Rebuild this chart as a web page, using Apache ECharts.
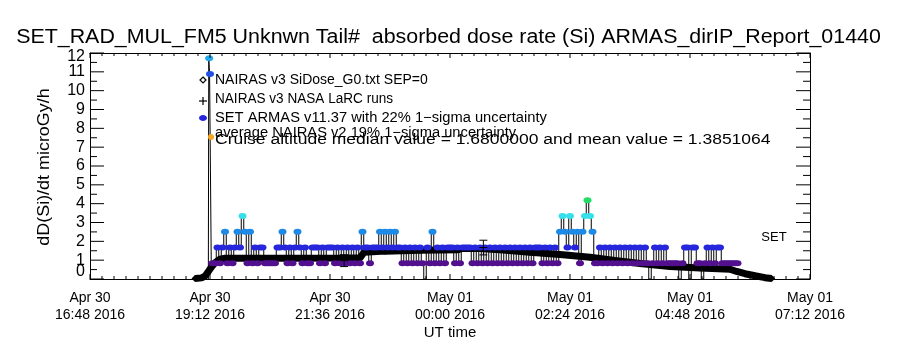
<!DOCTYPE html>
<html><head><meta charset="utf-8">
<script src="https://cdn.jsdelivr.net/npm/echarts/dist/echarts.min.js"></script>
<style>html,body{margin:0;padding:0;background:#fff}#c{width:900px;height:350px}</style>
</head><body><div id="c"></div>
<script>
// ---------------- data (times are UT, Apr 30 -> May 01 2016) ----------------
const xTickStartHour = 16.8;      // Apr 30 16:48
const xTickEndHour = 31.2;        // May 01 07:12
const xTickStepHour = 2.4;        // 2h24m
const xMinorPerMajor = 10;
const yTicks = [0,1,2,3,4,5,6,7,8,9,10,11,12];
const yMinorPerMajor = 2;

// ARMAS spike at take-off
const armasSpikeTimes  = ['19:10','19:11','19:12','19:15'];
const armasSpikeValues = [0, 11.72, 10.88, 0.84];
// ARMAS sampled every 3 minutes from 19:18
const armasStart = '19:18';
const armasStepMin = 3;
const armasValues = [
0.84,1.67,0.84,1.67,2.51,0.84,1.67,0.84,1.67,2.51,
1.67,3.35,2.51,0.84,2.51,0.84,1.67,0.84,1.67,1.67,
0.84,0.84,0.84,0.84,0.84,1.67,1.67,2.51,1.67,0.84,
1.67,0.84,1.67,2.51,1.67,0.84,1.67,0.84,0.84,1.67,
1.67,1.67,0.84,1.67,0.84,1.67,1.67,1.67,0.84,1.67,
0.84,1.67,0.84,1.67,0.84,1.67,0.84,1.67,0.84,2.51,
1.67,1.67,0.84,1.67,1.67,1.67,2.51,1.67,2.51,1.67,
2.51,1.67,2.51,1.67,1.67,0.84,1.67,0.84,1.67,0.84,
1.67,0.84,1.67,0.84,0,1.67,0.84,2.51,0.84,1.67,
0.84,1.67,0.84,1.67,1.67,1.67,0.84,1.67,0.84,1.67,
1.67,1.67,1.67,0.84,1.67,0.84,1.67,0.84,1.67,0.84,
1.67,0.84,1.67,0.84,1.67,0.84,1.67,0.84,1.67,0.84,
1.67,0.84,1.67,0.84,1.67,0.84,1.67,0.84,1.67,1.67,
1.67,0.84,1.67,0.84,1.67,0.84,1.67,0.84,2.51,3.35,
2.51,1.67,3.35,2.51,1.67,2.51,0.84,2.51,3.35,4.18,
3.35,2.51,0.84,0.84,1.67,0.84,1.67,0.84,1.67,0.84,
1.67,0.84,1.67,0.84,1.67,0.84,1.67,0.84,1.67,0.84,
1.67,0.84,1.67,0.84,0,0.84,1.67,0.84,1.67,0.84,
1.67,0.84,0.84,0.84,0.84,0.84,0,0.84,1.67,1.67,
0,1.67,1.67,0.84,0.84,0,0.84,1.67,0.84,1.67,
0.84,1.67,1.67,0.84,0.84,0.84,0.84,0.84,0.84,0.84
];
const armasLevels = [0.84,1.67,2.51,3.35,4.18,10.88,11.72];
const armasLevelColors = ['#52108f','#2626dc','#1e8ae8','#36e0ea','#22de66','#2050e4','#22a8ee'];

// NAIRAS v3 SiDose_G0
const nairasTimes = ['18:54','19:02','19:06','19:10','19:14','19:19','19:24','19:30','20:12','21:00','21:48','22:12','22:17','22:42','23:24','00:10','00:14','00:36','01:00','01:36','02:12','02:48','03:18','03:48','04:24','05:00','05:36','05:44','05:54','06:06','06:18','06:26'];
const nairasValues = [0.03,0.06,0.15,0.40,0.65,0.90,1.05,1.10,1.10,1.10,1.11,1.12,1.42,1.48,1.52,1.55,1.62,1.62,1.55,1.42,1.30,1.15,0.98,0.82,0.66,0.58,0.52,0.40,0.28,0.17,0.07,0.03];

// NAIRAS v3 NASA LaRC runs (value +/- error)
const larcTimes = ['21:53','00:40'];
const larcValues = [0.97,1.67];
const larcErrors = [0.31,0.39];

// ---------------- helpers ----------------
function toHours(s){ const p=s.split(':'); let h=+p[0]+(+p[1])/60; if(h<12) h+=24; return h; }
function levelColor(v){ let best=0,d=1e9; armasLevels.forEach((l,i)=>{ if(Math.abs(l-v)<d){d=Math.abs(l-v);best=i;} }); return armasLevelColors[best]; }
function fmtX(h){ const m=Math.round(h*60); const day=m<1440?'Apr 30':'May 01'; const mm=m%1440; const hh=Math.floor(mm/60), mi=mm%60; return day+'\n'+String(hh).padStart(2,'0')+':'+String(mi).padStart(2,'0')+' 2016'; }

const armasData = armasSpikeTimes.map((t,i)=>[toHours(t),armasSpikeValues[i]]);
const a0 = toHours(armasStart);
armasValues.forEach((v,i)=>armasData.push([a0+i*armasStepMin/60, v]));
const nairasData = nairasTimes.map((t,i)=>[toHours(t),nairasValues[i]]);
const larcData = larcTimes.map((t,i)=>[toHours(t),larcValues[i],larcErrors[i]]);

const yMin = yTicks[0], yMax = yTicks[yTicks.length-1];

// layout
const GRID = {left:90, right:90, top:53, bottom:71};
const plotW = 900-GRID.left-GRID.right, plotH = 350-GRID.top-GRID.bottom;
const hPerPx = (xTickEndHour-xTickStartHour)/plotW, vPerPx = (yMax-yMin)/plotH;

// IDL-style tick marks pointing into the frame, drawn as short segments in axis units
const tickSegs = [];
const GAP = ['-','-'];
const nX = Math.round((xTickEndHour-xTickStartHour)/xTickStepHour)*xMinorPerMajor;
for (let k=0;k<=nX;k++){
  const x = xTickStartHour + k*xTickStepHour/xMinorPerMajor;
  const len = (k%xMinorPerMajor===0?5:3)*vPerPx;
  tickSegs.push([x,yMin],[x,yMin+len],GAP,[x,yMax],[x,yMax-len],GAP);
}
const nY = (yTicks.length-1)*yMinorPerMajor;
for (let k=0;k<=nY;k++){
  const y = yMin + k/yMinorPerMajor;
  const len = (k%yMinorPerMajor===0?14:7)*hPerPx;
  tickSegs.push([xTickStartHour,y],[xTickStartHour+len,y],GAP,[xTickEndHour,y],[xTickEndHour-len,y],GAP);
}

const FONT='"Liberation Sans", Arial, sans-serif';
const chart = echarts.init(document.getElementById('c'), null, {renderer:'canvas'});
const K = {color:'#000', width:1};
const NO = {show:false};
const xRange = {type:'value', min:xTickStartHour, max:xTickEndHour, interval:xTickStepHour, splitLine:NO, minorSplitLine:NO, axisTick:NO, minorTick:NO};
const yRange = {type:'value', min:yMin, max:yMax, interval:1, splitLine:NO, minorSplitLine:NO, axisTick:NO, minorTick:NO};
chart.setOption({
  animation:false,
  backgroundColor:'#fff',
  grid:Object.assign({containLabel:false}, GRID),
  xAxis:[
    Object.assign({}, xRange, {position:'bottom', axisLine:{show:true, onZero:false, lineStyle:K},
      axisLabel:{show:true, showMinLabel:true, showMaxLabel:true, formatter:fmtX, color:'#000', fontFamily:FONT, fontSize:14, lineHeight:17, margin:11}}),
    Object.assign({}, xRange, {position:'top', axisLine:{show:true, onZero:false, lineStyle:K}, axisLabel:NO})
  ],
  yAxis:[
    Object.assign({}, yRange, {position:'left', axisLine:{show:true, onZero:false, lineStyle:K},
      axisLabel:{show:true, color:'#000', fontFamily:FONT, fontSize:16, margin:5,
        formatter:v=> (v===yMin||v===yMax)?'':String(v)}}),
    Object.assign({}, yRange, {position:'right', axisLine:{show:true, onZero:false, lineStyle:K}, axisLabel:NO}),
    Object.assign({}, yRange, {position:'left', axisLine:NO,
      axisLabel:{show:true, showMinLabel:true, showMaxLabel:true, color:'#000', fontFamily:FONT, fontSize:16, margin:5,
        formatter:v=> v===yMin?'{lo|'+v+'}':(v===yMax?'{hi|'+v+'}':''),
        rich:{lo:{fontFamily:FONT,fontSize:16,color:'#000',padding:[0,0,14,0]}, hi:{fontFamily:FONT,fontSize:16,color:'#000',padding:[7,0,0,0]}}}})
  ],
  series:[
    {type:'line', name:'ticks', data:tickSegs, xAxisIndex:0, yAxisIndex:0, z:6, clip:false,
      connectNulls:false, symbol:'none', showSymbol:false, lineStyle:{color:'#000', width:1},
      emphasis:{disabled:true}, silent:true},
    {type:'line', name:'NAIRAS v3', data:nairasData, xAxisIndex:0, yAxisIndex:0, z:2,
      lineStyle:{color:'#000', width:7}, symbol:'diamond', symbolSize:7, showAllSymbol:true,
      itemStyle:{color:'#000'}, emphasis:{disabled:true}, silent:true},
    {type:'line', name:'ARMAS', data:armasData, xAxisIndex:0, yAxisIndex:0, z:3, step:'middle',
      lineStyle:{color:'#000', width:1}, symbol:'circle', showAllSymbol:true,
      symbolSize:(val)=> val[1]<0.1?0:[8,6],
      itemStyle:{color:(p)=>levelColor(p.value[1])}, emphasis:{disabled:true}, silent:true},
    {type:'custom', name:'LaRC', data:larcData, xAxisIndex:0, yAxisIndex:0, z:4, silent:true,
      encode:{x:0, y:1},
      renderItem:(params, api)=>{
        const x=api.value(0), y=api.value(1), e=api.value(2);
        const t=api.coord([x,y+e]), b=api.coord([x,y-e]), m=api.coord([x,y]);
        const st={stroke:'#000', lineWidth:1};
        return {type:'group', children:[
          {type:'line', shape:{x1:t[0],y1:t[1],x2:b[0],y2:b[1]}, style:st},
          {type:'line', shape:{x1:t[0]-4,y1:t[1],x2:t[0]+4,y2:t[1]}, style:st},
          {type:'line', shape:{x1:b[0]-4,y1:b[1],x2:b[0]+4,y2:b[1]}, style:st},
          {type:'line', shape:{x1:m[0]-4,y1:m[1],x2:m[0]+4,y2:m[1]}, style:st}
        ]};
      }}
  ],
  graphic:[
    {type:'text', x:448.5, y:37, scaleX:1.07, style:{text:'SET_RAD_MUL_FM5 Unknwn Tail#  absorbed dose rate (Si) ARMAS_dirIP_Report_01440', font:'20px '+FONT, fill:'#000', textAlign:'center', textVerticalAlign:'middle'}},
    {type:'text', x:45, y:167, rotation:Math.PI/2, scaleX:1.12, style:{text:'dD(Si)/dt microGy/h', font:'16px '+FONT, fill:'#000', textAlign:'center', textVerticalAlign:'middle'}},
    {type:'text', x:450, y:333, style:{text:'UT time', font:'15px '+FONT, fill:'#000', textAlign:'center', textVerticalAlign:'middle'}},
    {type:'text', x:774, y:237, style:{text:'SET', font:'13px '+FONT, fill:'#000', textAlign:'center', textVerticalAlign:'middle'}},
    // legend
    {type:'polygon', shape:{points:[[203,77],[206,80],[203,83],[200,80]]}, style:{fill:'#fff', stroke:'#000', lineWidth:1.2}, z:10},
    {type:'text', x:215, y:80, style:{text:'NAIRAS v3 SiDose_G0.txt SEP=0', font:'14px '+FONT, fill:'#000', textVerticalAlign:'middle'}, z:10},
    {type:'line', shape:{x1:199,y1:101,x2:207,y2:101}, style:{stroke:'#000', lineWidth:1.2}, z:10},
    {type:'line', shape:{x1:203,y1:97,x2:203,y2:105}, style:{stroke:'#000', lineWidth:1.2}, z:10},
    {type:'text', x:215, y:99, scaleX:0.97, style:{text:'NAIRAS v3 NASA LaRC runs', font:'14px '+FONT, fill:'#000', textVerticalAlign:'middle'}, z:10},
    {type:'ellipse', shape:{cx:203, cy:118, rx:4, ry:3}, style:{fill:'#2626dc'}, z:10},
    {type:'text', x:215, y:118, scaleX:1.05, style:{text:'SET ARMAS v11.37 with 22% 1\u2212sigma uncertainty', font:'14px '+FONT, fill:'#000', textVerticalAlign:'middle'}, z:10},
    {type:'circle', shape:{cx:211, cy:137, r:3}, style:{fill:'#f5a623'}, z:10},
    {type:'text', x:215, y:133, scaleX:1.05, style:{text:'average NAIRAS v2 19% 1\u2212sigma uncertainty', font:'14px '+FONT, fill:'#000', textVerticalAlign:'middle'}, z:10},
    {type:'text', x:215, y:140, scaleX:1.25, style:{text:'Cruise altitude median value = 1.6800000 and mean value = 1.3851064', font:'14px '+FONT, fill:'#000', textVerticalAlign:'middle'}, z:10}
  ]
});
</script></body></html>
